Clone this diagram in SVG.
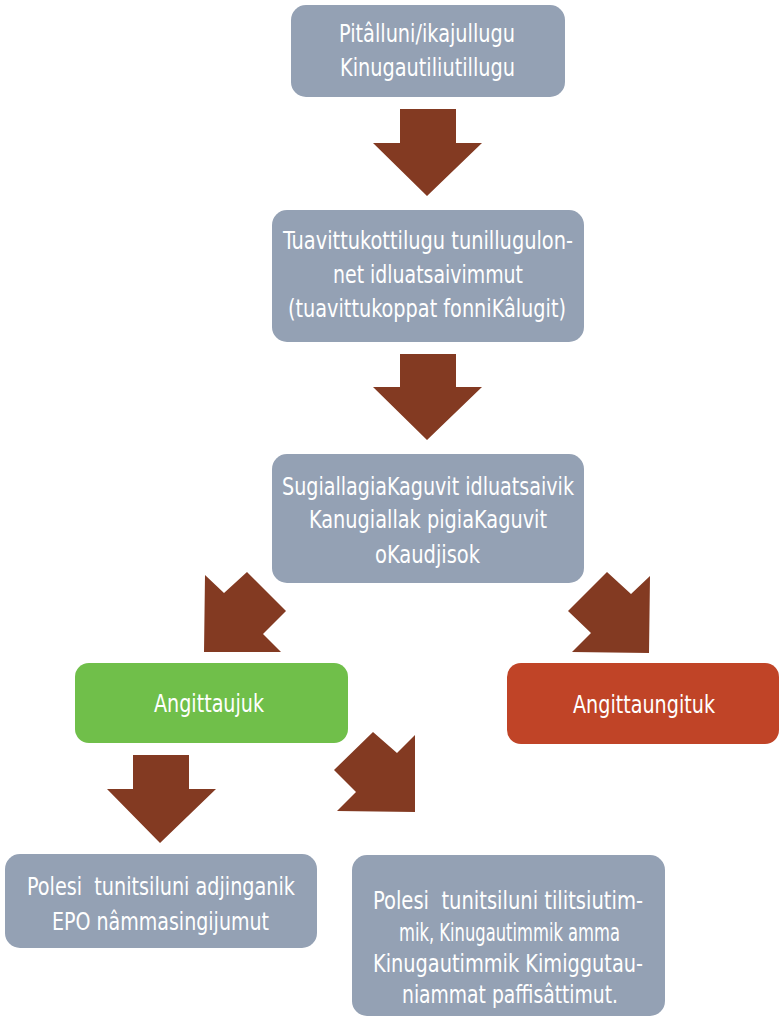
<svg xmlns="http://www.w3.org/2000/svg" width="783" height="1017" viewBox="0 0 783 1017">
<style>
.box{fill:#94A1B4}
.ok{fill:#70BF4A}
.no{fill:#C04427}
.arr{fill:#833A22}
text{font-family:"Liberation Sans Narrow","DejaVu Sans Condensed","Liberation Sans",sans-serif;font-size:24px;fill:#FFFFFF;text-anchor:middle}
</style>
<rect width="783" height="1017" fill="#FFFFFF"/>
<g id="connectors">
<polygon class="arr" points="400,109 456,109 456,143 482,143 427,196 373,143 400,143"/>
<polygon class="arr" points="400,354 456,354 456,387 482,387 427,440 373,387 400,387"/>
<polygon class="arr" points="204,652 281,652 263,634 286,611 247,572 224,593 205,575"/>
<polygon class="arr" points="649,653 650,576 631,594 607,572 568,611 591,633 572,652"/>
<polygon class="arr" points="133,755 189,755 189,789 216,789 160,843 107,789 133,789"/>
<polygon class="arr" points="415,812 415,735 397,753 373,732 334,770 356,792 337,811"/>
</g>
<g id="n1">
<rect class="box" x="291" y="5" width="274" height="92" rx="15"/>
<text x="427" y="42" textLength="176" lengthAdjust="spacingAndGlyphs">Pitâlluni/ikajullugu</text>
<text x="427.5" y="76" textLength="175" lengthAdjust="spacingAndGlyphs">Kinugautiliutillugu</text>
</g>
<g id="n2">
<rect class="box" x="272" y="210" width="312" height="132" rx="15"/>
<text x="428" y="249" textLength="290" lengthAdjust="spacingAndGlyphs">Tuavittukottilugu tunillugulon-</text>
<text x="428" y="283" textLength="190" lengthAdjust="spacingAndGlyphs">net idluatsaivimmut</text>
<text x="427" y="317" textLength="278" lengthAdjust="spacingAndGlyphs">(tuavittukoppat fonniKâlugit)</text>
</g>
<g id="n3">
<rect class="box" x="272" y="454" width="312" height="129" rx="15"/>
<text x="428" y="495" textLength="292" lengthAdjust="spacingAndGlyphs">SugiallagiaKaguvit idluatsaivik</text>
<text x="428" y="528" textLength="238" lengthAdjust="spacingAndGlyphs">Kanugiallak pigiaKaguvit</text>
<text x="427.5" y="563" textLength="105" lengthAdjust="spacingAndGlyphs">oKaudjisok</text>
</g>
<g id="n4">
<rect class="ok" x="75" y="663" width="273" height="80" rx="14"/>
<text x="209" y="712" textLength="110" lengthAdjust="spacingAndGlyphs">Angittaujuk</text>
</g>
<g id="n5">
<rect class="no" x="507" y="663" width="272" height="81" rx="14"/>
<text x="644" y="713" textLength="142" lengthAdjust="spacingAndGlyphs">Angittaungituk</text>
</g>
<g id="n6">
<rect class="box" x="5" y="854" width="312" height="94" rx="15"/>
<text x="161" y="895" textLength="268" lengthAdjust="spacingAndGlyphs" xml:space="preserve">Polesi  tunitsiluni adjinganik</text>
<text x="160.5" y="930" textLength="217" lengthAdjust="spacingAndGlyphs">EPO nâmmasingijumut</text>
</g>
<g id="n7">
<rect class="box" x="352" y="855" width="313" height="161" rx="15"/>
<text x="508" y="909" textLength="270" lengthAdjust="spacingAndGlyphs" xml:space="preserve">Polesi  tunitsiluni tilitsiutim-</text>
<text x="509.5" y="941" textLength="221" lengthAdjust="spacingAndGlyphs">mik, Kinugautimmik amma</text>
<text x="508" y="972" textLength="270" lengthAdjust="spacingAndGlyphs">Kinugautimmik Kimiggutau-</text>
<text x="510" y="1003" textLength="216" lengthAdjust="spacingAndGlyphs">niammat paffisâttimut.</text>
</g>
</svg>
